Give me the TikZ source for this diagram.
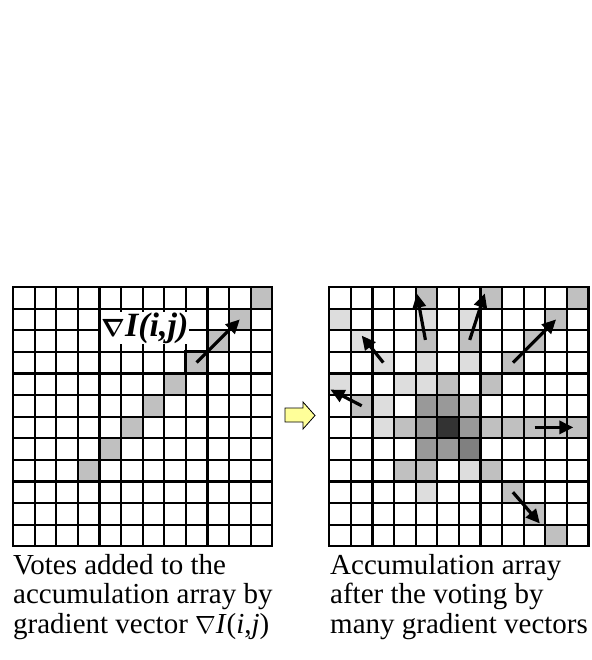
\documentclass[tikz,border=0pt]{standalone}
\usepackage{fontspec}
\setmainfont{Liberation Serif}
\usetikzlibrary{arrows.meta}
\definecolor{celllight}{HTML}{DDDDDD}
\definecolor{cellmid}{HTML}{C0C0C0}
\definecolor{celldark}{HTML}{999999}
\definecolor{cellvdark}{HTML}{808080}
\definecolor{cellcore}{HTML}{333333}
\definecolor{blockarrow}{HTML}{FFFF99}

\begin{document}
\begin{tikzpicture}[x=1pt,y=-1pt,line join=miter,
  gridline/.style={black,line width=2.2pt},
  vote/.style={-{Triangle[length=14pt,width=13pt]},line width=3.2pt},
  txt/.style={font=\fontsize{29}{29.5}\selectfont,align=left,inner sep=0pt,anchor=north west}]
  \useasboundingbox (0,0) rectangle (591,660);

  % ===== left grid: votes of one gradient vector =====
  \begin{scope}[shift={(13,287)},x=21.6pt,y=-21.6pt]
    \foreach \c/\r in {11/0,10/1,9/2,8/3,7/4,6/5,5/6,4/7,3/8}{
      \fill[cellmid] (\c,\r) rectangle ++(1,1);
    }
    \foreach \i in {0,...,12}{
      \draw[gridline] (\i,0) -- (\i,12) (0,\i) -- (12,\i);
    }
    \draw[gridline] (0,0) rectangle (12,12);
    \node[fill=white,inner sep=0.5pt,font=\bfseries\itshape\fontsize{34}{34}\selectfont] (gradlbl) at (6.1,1.9)
      {{\boldmath$\nabla$}I(i,j)};
    \draw[line width=3pt] (8,3) rectangle (9,4);   % pixel (i,j)
    \draw[vote] (8.5,3.5) -- (10.5,1.5);
  \end{scope}

  % ===== block arrow between the grids =====
  \draw[fill=blockarrow,line width=0.8pt] (285,408) -- (303,408) -- (303,402) -- (315,415.5)
    -- (303,429) -- (303,422) -- (285,422) -- cycle;

  % ===== right grid: accumulation array =====
  \begin{scope}[shift={(329.3,287)},x=21.6pt,y=-21.6pt]
    \foreach \c/\r in {0/1,4/1,6/1,1/2,2/3,4/3,6/3,0/4,3/4,4/4,2/5,2/6,6/8,4/9}{
      \fill[celllight] (\c,\r) rectangle ++(1,1);
    }
    \foreach \c/\r in {4/0,7/0,11/0,10/1,4/2,6/2,9/2,8/3,5/4,7/4,1/5,6/5,3/6,7/6,8/6,9/6,10/6,11/6,3/8,4/8,7/8,8/9,9/10,10/11}{
      \fill[cellmid] (\c,\r) rectangle ++(1,1);
    }
    \foreach \c/\r in {4/5,5/5,4/6,6/6,4/7,5/7}{
      \fill[celldark] (\c,\r) rectangle ++(1,1);
    }
    \fill[cellvdark] (6,7) rectangle ++(1,1);
    \fill[cellcore] (5,6) rectangle ++(1,1);
    \foreach \i in {0,...,12}{
      \draw[gridline] (\i,0) -- (\i,12) (0,\i) -- (12,\i);
    }
    \draw[gridline] (0,0) rectangle (12,12);
    % gradient vectors
    \draw[vote] (4.45,2.45) -- (4.05,0.3);
    \draw[vote] (6.5,2.45) -- (7.2,0.3);
    \draw[vote] (2.5,3.5) -- (1.5,2.25);
    \draw[vote] (8.5,3.5) -- (10.5,1.5);
    \draw[vote] (1.5,5.5) -- (0.05,4.75);
    \draw[vote] (9.5,6.5) -- (11.3,6.5);
    \draw[vote] (8.5,9.5) -- (9.75,10.95);
  \end{scope}

  % ===== captions =====
  \node[txt] (leftcap) at (13,554) {Votes added to the\\accumulation array by\\gradient vector $\nabla$\textit{I}(\textit{i},\textit{j})};
  \node[txt] (rightcap) at (330,554) {Accumulation array\\after the voting by\\many gradient vectors};
\end{tikzpicture}
\end{document}
